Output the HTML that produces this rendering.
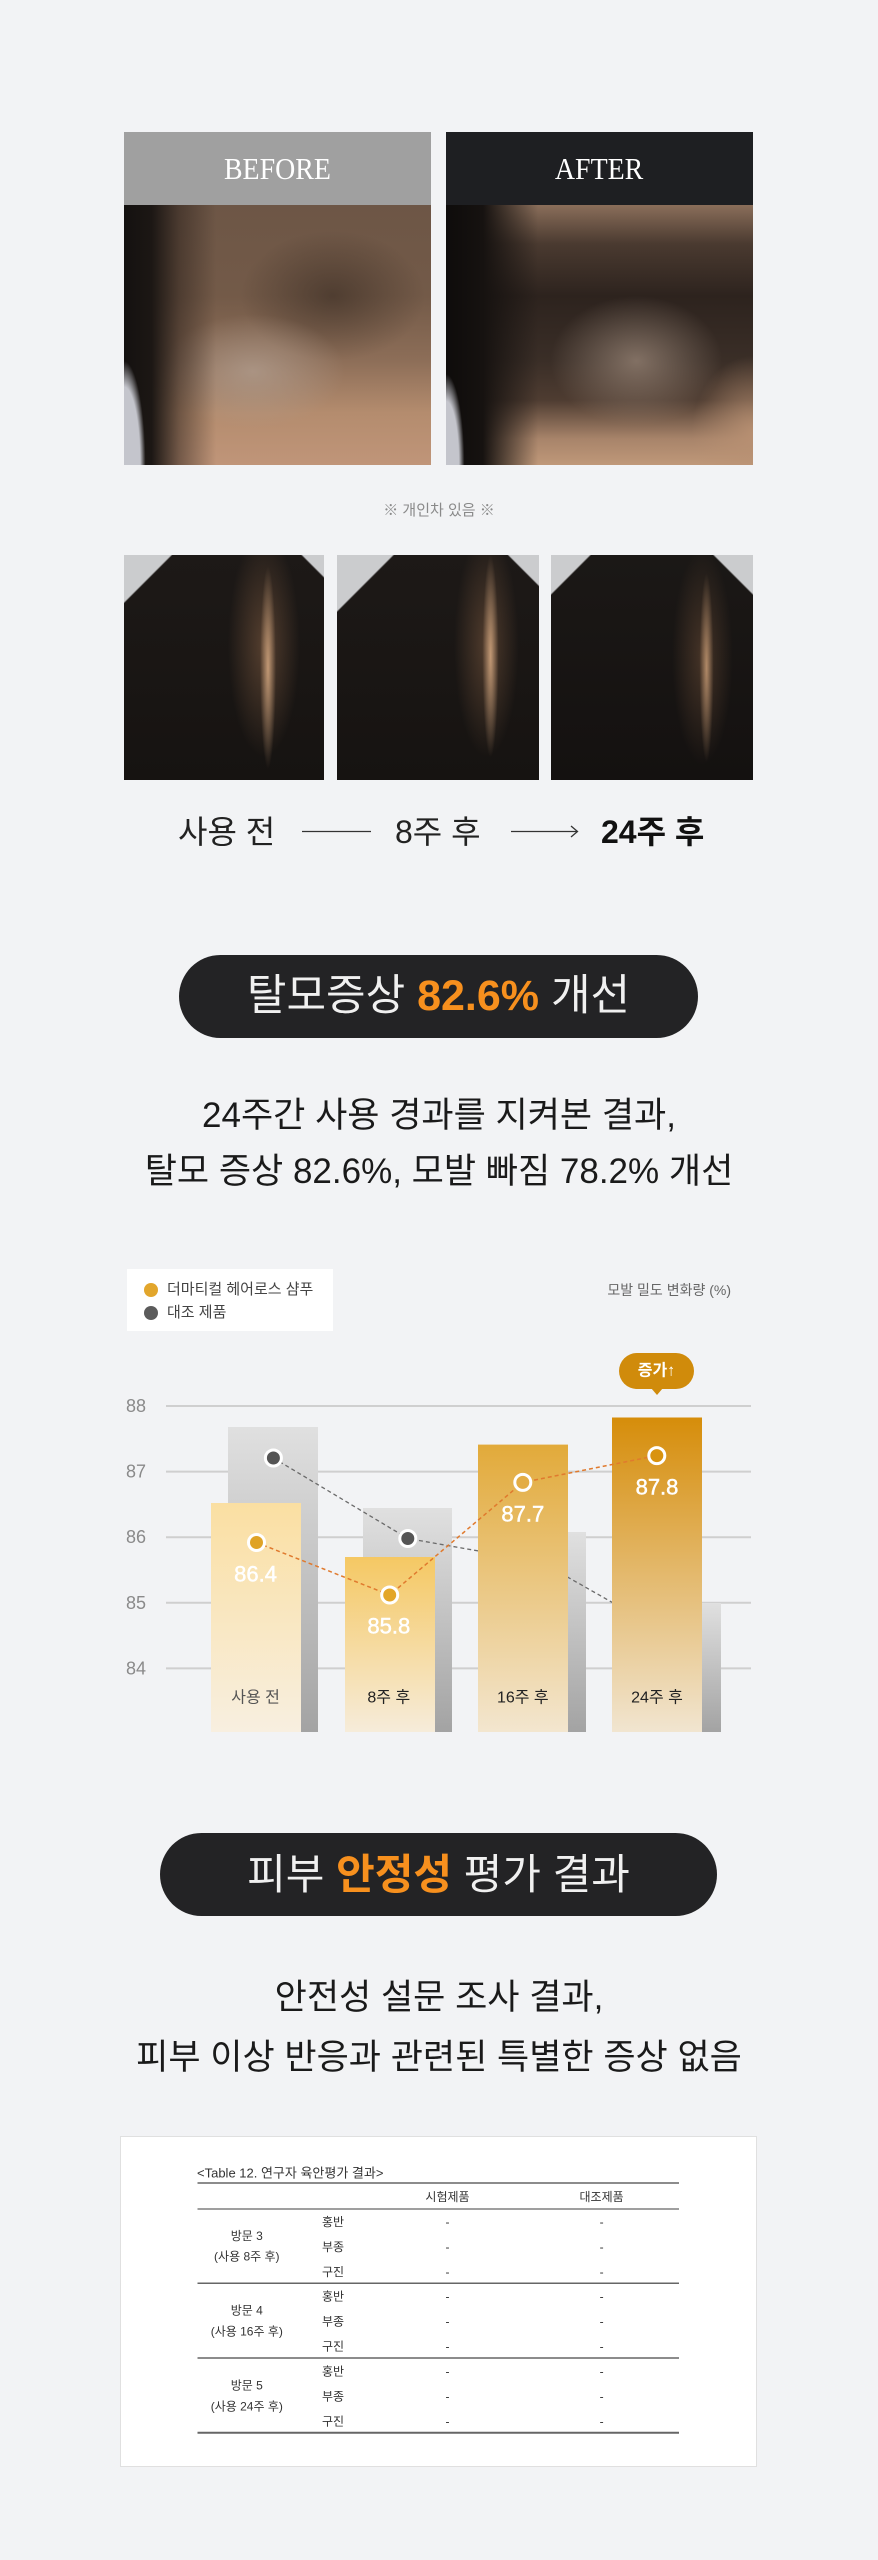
<!DOCTYPE html>
<html><head><meta charset="utf-8">
<style>
*{margin:0;padding:0;box-sizing:border-box}
html,body{width:878px;height:2560px;background:#f2f3f5;overflow:hidden}
body{position:relative;font-family:"Liberation Sans","Noto Sans CJK KR",sans-serif;color:#222}
.a{position:absolute}
.c{text-align:center;white-space:nowrap}
.n{white-space:nowrap}
.sp{position:absolute;top:555px;height:225px}
</style></head><body>

<!-- BEFORE / AFTER -->
<div class="a" style="left:124px;top:132px;width:307px;height:73px;background:#a0a0a0"></div>
<div class="a c" style="left:124px;top:132px;width:307px;height:73px;line-height:73px;color:#fff;font-family:'Liberation Serif',serif;font-size:31px"><span style="display:inline-block;transform:scaleX(.9)">BEFORE</span></div>
<div class="a" style="left:124px;top:205px;width:307px;height:260px;background:
 radial-gradient(ellipse 7% 40% at 0% 100%, #c4c5cc 0%, #c4c5cc 75%, rgba(196,197,204,0) 100%),
 linear-gradient(90deg, #141110 0%, #1c1714 9%, rgba(40,30,25,0.5) 18%, rgba(40,30,25,0) 30%),
 radial-gradient(ellipse 30% 22% at 42% 64%, rgba(175,155,140,.8), rgba(175,155,140,0) 100%),
 radial-gradient(ellipse 30% 25% at 68% 35%, rgba(50,38,30,.55), rgba(50,38,30,0) 100%),
 linear-gradient(180deg, #6d5646 0%, #735a48 35%, #8d6e58 60%, #b48c6e 80%, #c09579 100%)"></div>

<div class="a" style="left:446px;top:132px;width:307px;height:73px;background:#1e1f22"></div>
<div class="a c" style="left:446px;top:132px;width:307px;height:73px;line-height:73px;color:#fff;font-family:'Liberation Serif',serif;font-size:31px"><span style="display:inline-block;transform:scaleX(.9)">AFTER</span></div>
<div class="a" style="left:446px;top:205px;width:307px;height:260px;background:
 radial-gradient(ellipse 6% 35% at 0% 100%, #c4c5cc 0%, #c4c5cc 70%, rgba(196,197,204,0) 100%),
 radial-gradient(ellipse 20% 30% at 100% 88%, rgba(185,145,115,.9), rgba(185,145,115,0) 100%),
 linear-gradient(90deg, #0e0c0b 0%, #161210 12%, rgba(22,18,16,0) 30%),
 radial-gradient(ellipse 28% 25% at 62% 60%, rgba(160,140,125,.7), rgba(160,140,125,0) 100%),
 linear-gradient(180deg, #8a6e5a 0%, #4a3a30 15%, #2d231e 35%, #3a2e27 60%, #4e3c31 75%, #a8846a 90%, #bf9879 100%)"></div>

<div class="a c" style="left:0;width:878px;top:500px;height:22px;line-height:22px;font-size:15px;color:#8a8a8a">※ 개인차 있음 ※</div>

<!-- three scalp photos -->
<div class="sp" style="left:124px;width:200px;background:
 linear-gradient(135deg, #cbccce 0%, #cbccce 11%, rgba(203,204,206,0) 11.5%),
 linear-gradient(225deg, #cbccce 0%, #cbccce 5%, rgba(203,204,206,0) 5.5%),
 radial-gradient(ellipse 4% 45% at 72% 50%, rgba(215,170,130,.85), rgba(215,170,130,0) 100%),
 radial-gradient(ellipse 18% 50% at 70% 40%, rgba(110,80,58,.7), rgba(110,80,58,0) 100%),
 linear-gradient(180deg, #1d1917, #161311)"></div>
<div class="sp" style="left:337px;width:202px;background:
 linear-gradient(135deg, #cbccce 0%, #cbccce 13%, rgba(203,204,206,0) 13.5%),
 linear-gradient(225deg, #cbccce 0%, #cbccce 7%, rgba(203,204,206,0) 7.5%),
 radial-gradient(ellipse 4% 45% at 76% 45%, rgba(215,170,130,.85), rgba(215,170,130,0) 100%),
 radial-gradient(ellipse 16% 50% at 74% 40%, rgba(110,80,58,.65), rgba(110,80,58,0) 100%),
 linear-gradient(180deg, #1d1917, #161311)"></div>
<div class="sp" style="left:551px;width:202px;background:
 linear-gradient(135deg, #cbccce 0%, #cbccce 9%, rgba(203,204,206,0) 9.5%),
 linear-gradient(225deg, #cbccce 0%, #cbccce 9%, rgba(203,204,206,0) 9.5%),
 radial-gradient(ellipse 3.5% 42% at 77% 50%, rgba(205,160,120,.8), rgba(205,160,120,0) 100%),
 radial-gradient(ellipse 15% 48% at 75% 45%, rgba(100,72,52,.6), rgba(100,72,52,0) 100%),
 linear-gradient(180deg, #1b1816, #141110)"></div>

<!-- label row -->
<div class="a n" style="left:178px;top:811px;height:42px;line-height:42px;font-size:32px;color:#222">사용 전</div>
<div class="a n" style="left:395px;top:811px;height:42px;line-height:42px;font-size:32px;color:#222">8주 후</div>
<div class="a n" style="left:601px;top:811px;height:42px;line-height:42px;font-size:32px;color:#111;font-weight:bold">24주 후</div>
<svg class="a" style="left:0;top:820px" width="878" height="24" viewBox="0 820 878 24">
 <line x1="302" y1="831.5" x2="371" y2="831.5" stroke="#333" stroke-width="1.3"/>
 <line x1="511" y1="831.5" x2="577" y2="831.5" stroke="#333" stroke-width="1.3"/>
 <polyline points="571,826 577.5,831.5 571,837" fill="none" stroke="#333" stroke-width="1.3"/>
</svg>

<!-- pill 1 -->
<div class="a c" style="left:179px;top:955px;width:519px;height:83px;border-radius:42px;background:#232325;line-height:83px;font-size:43px;color:#f0f0f0">탈모증상 <span style="color:#f7901e;font-weight:bold">82.6%</span> 개선</div>

<div class="a c" style="left:0;width:878px;top:1093px;height:46px;line-height:46px;font-size:35px;color:#1a1a1a">24주간 사용 경과를 지켜본 결과,</div>
<div class="a c" style="left:0;width:878px;top:1149px;height:46px;line-height:46px;font-size:35px;color:#1a1a1a">탈모 증상 82.6%, 모발 빠짐 78.2% 개선</div>

<!-- chart legend -->
<div class="a" style="left:127px;top:1269px;width:206px;height:62px;background:#fff"></div>
<div class="a" style="left:144px;top:1283px;width:14px;height:14px;border-radius:50%;background:#e2a62c"></div>
<div class="a" style="left:144px;top:1306px;width:14px;height:14px;border-radius:50%;background:#5b5b5b"></div>
<div class="a n" style="left:167px;top:1280px;height:20px;line-height:20px;font-size:15px;color:#444">더마티컬 헤어로스 샴푸</div>
<div class="a n" style="left:167px;top:1303px;height:20px;line-height:20px;font-size:15px;color:#444">대조 제품</div>
<div class="a n" style="right:147px;top:1280px;height:20px;line-height:20px;font-size:14px;color:#666">모발 밀도 변화량 (%)</div>

<svg class="a" style="left:0;top:1340px" width="878" height="410" viewBox="0 1340 878 410" font-family="Liberation Sans, Noto Sans CJK KR, sans-serif">
 <defs>
  <linearGradient id="gg" x1="0" y1="0" x2="0" y2="1"><stop offset="0" stop-color="#e0e0e0"/><stop offset="1" stop-color="#a3a3a3"/></linearGradient>
  <linearGradient id="y1" x1="0" y1="0" x2="0" y2="1"><stop offset="0" stop-color="#fadfa2"/><stop offset="1" stop-color="#f8efe0"/></linearGradient>
  <linearGradient id="y2" x1="0" y1="0" x2="0" y2="1"><stop offset="0" stop-color="#f5c863"/><stop offset="1" stop-color="#f6ecda"/></linearGradient>
  <linearGradient id="y3" x1="0" y1="0" x2="0" y2="1"><stop offset="0" stop-color="#e2aa3a"/><stop offset="1" stop-color="#f3e6cf"/></linearGradient>
  <linearGradient id="y4" x1="0" y1="0" x2="0" y2="1"><stop offset="0" stop-color="#d68d0a"/><stop offset="1" stop-color="#f1e5d0"/></linearGradient>
 </defs>
 <g stroke="#cfcfcf" stroke-width="2">
  <line x1="166" y1="1406" x2="751" y2="1406"/>
  <line x1="166" y1="1471.6" x2="751" y2="1471.6"/>
  <line x1="166" y1="1537.2" x2="751" y2="1537.2"/>
  <line x1="166" y1="1602.8" x2="751" y2="1602.8"/>
  <line x1="166" y1="1668.4" x2="751" y2="1668.4"/>
 </g>
 <g font-size="18" fill="#8a8a8a" text-anchor="end" dominant-baseline="central">
  <text x="146" y="1406">88</text>
  <text x="146" y="1471.6">87</text>
  <text x="146" y="1537.2">86</text>
  <text x="146" y="1602.8">85</text>
  <text x="146" y="1668.4">84</text>
 </g>
 <!-- gray bars -->
 <rect x="228" y="1427" width="90" height="305" fill="url(#gg)"/>
 <rect x="363" y="1508" width="89" height="224" fill="url(#gg)"/>
 <rect x="496" y="1532" width="90" height="200" fill="url(#gg)"/>
 <rect x="630" y="1603" width="91" height="129" fill="url(#gg)"/>
 <!-- gray line -->
 <polyline points="273.4,1458 407.8,1538.5 541,1562 675,1638" fill="none" stroke="#6a6a6a" stroke-width="1.3" stroke-dasharray="4 3"/>
 <circle cx="273.4" cy="1458" r="8" fill="#555" stroke="#fff" stroke-width="3"/>
 <circle cx="407.8" cy="1538.5" r="8" fill="#555" stroke="#fff" stroke-width="3"/>
 <!-- yellow bars -->
 <rect x="211" y="1503" width="90" height="229" fill="url(#y1)"/>
 <rect x="345" y="1557" width="90" height="175" fill="url(#y2)"/>
 <rect x="478" y="1444.6" width="90" height="287.4" fill="url(#y3)"/>
 <rect x="612" y="1417.5" width="90" height="314.5" fill="url(#y4)"/>
 <!-- yellow line -->
 <polyline points="256.5,1542.5 389.7,1595 522.8,1482.4 656.8,1455.6" fill="none" stroke="#e07a2e" stroke-width="1.5" stroke-dasharray="4 3"/>
 <circle cx="256.5" cy="1542.5" r="8" fill="#dfa326" stroke="#fff" stroke-width="3"/>
 <circle cx="389.7" cy="1595" r="8" fill="#e3a628" stroke="#fff" stroke-width="3"/>
 <circle cx="522.8" cy="1482.4" r="8" fill="#e3ad45" stroke="#fff" stroke-width="3"/>
 <circle cx="656.8" cy="1455.6" r="8" fill="#d9930f" stroke="#fff" stroke-width="3"/>
 <g font-size="22" fill="#fff" stroke="#fff" stroke-width=".5" text-anchor="middle" dominant-baseline="central">
  <text x="255.6" y="1574">86.4</text>
  <text x="388.8" y="1626">85.8</text>
  <text x="522.8" y="1514">87.7</text>
  <text x="657" y="1487">87.8</text>
 </g>
 <g font-size="16" text-anchor="middle" dominant-baseline="central">
  <text x="255.6" y="1698" fill="#555">사용 전</text>
  <text x="388.8" y="1698" fill="#222">8주 후</text>
  <text x="522.8" y="1698" fill="#222">16주 후</text>
  <text x="657" y="1698" fill="#222">24주 후</text>
 </g>
 <!-- badge -->
 <rect x="619" y="1353" width="75" height="36" rx="18" fill="#d08b0b"/>
 <polygon points="651,1388 663,1388 657,1395" fill="#d08b0b"/>
 <text x="656.5" y="1371" font-size="16" font-weight="bold" fill="#fff" text-anchor="middle" dominant-baseline="central">증가↑</text>
</svg>

<!-- pill 2 -->
<div class="a c" style="left:160px;top:1833px;width:557px;height:83px;border-radius:42px;background:#232325;line-height:83px;font-size:42px;color:#f0f0f0">피부 <span style="color:#f7901e;font-weight:bold">안정성</span> 평가 결과</div>

<div class="a c" style="left:0;width:878px;top:1975px;height:46px;line-height:46px;font-size:35px;color:#1a1a1a">안전성 설문 조사 결과,</div>
<div class="a c" style="left:0;width:878px;top:2035px;height:46px;line-height:46px;font-size:35px;color:#1a1a1a">피부 이상 반응과 관련된 특별한 증상 없음</div>

<!-- table card -->
<div class="a" style="left:120px;top:2136px;width:637px;height:331px;background:#fff;border:1px solid #e0e0e0"></div>
<svg class="a" style="left:0;top:2130px" width="878" height="350" viewBox="0 2130 878 350" font-family="Liberation Sans, Noto Sans CJK KR, sans-serif">
 <text x="197" y="2173" font-size="13" fill="#333" dominant-baseline="central">&lt;Table 12. 연구자 육안평가 결과&gt;</text>
 <g stroke="#666">
  <line x1="197.5" y1="2183" x2="679" y2="2183" stroke-width="1.6"/>
  <line x1="197.5" y1="2209" x2="679" y2="2209" stroke-width="1.3"/>
  <line x1="197.5" y1="2283.3" x2="679" y2="2283.3" stroke-width="1.5"/>
  <line x1="197.5" y1="2358" x2="679" y2="2358" stroke-width="1.5"/>
  <line x1="197.5" y1="2432.7" x2="679" y2="2432.7" stroke-width="2"/>
 </g>
 <g font-size="12" fill="#333" text-anchor="middle" dominant-baseline="central">
  <text x="447.5" y="2197">시험제품</text>
  <text x="601.6" y="2197">대조제품</text>

  <text x="246.8" y="2236">방문 3</text>
  <text x="246.8" y="2256.7">(사용 8주 후)</text>
  <text x="246.8" y="2310.7">방문 4</text>
  <text x="246.8" y="2331.7">(사용 16주 후)</text>
  <text x="246.8" y="2385.7">방문 5</text>
  <text x="246.8" y="2406.7">(사용 24주 후)</text>

  <text x="333" y="2222">홍반</text><text x="447.5" y="2222">-</text><text x="601.6" y="2222">-</text>
  <text x="333" y="2247">부종</text><text x="447.5" y="2247">-</text><text x="601.6" y="2247">-</text>
  <text x="333" y="2272">구진</text><text x="447.5" y="2272">-</text><text x="601.6" y="2272">-</text>

  <text x="333" y="2296.7">홍반</text><text x="447.5" y="2296.7">-</text><text x="601.6" y="2296.7">-</text>
  <text x="333" y="2321.7">부종</text><text x="447.5" y="2321.7">-</text><text x="601.6" y="2321.7">-</text>
  <text x="333" y="2346.7">구진</text><text x="447.5" y="2346.7">-</text><text x="601.6" y="2346.7">-</text>

  <text x="333" y="2371.5">홍반</text><text x="447.5" y="2371.5">-</text><text x="601.6" y="2371.5">-</text>
  <text x="333" y="2396.5">부종</text><text x="447.5" y="2396.5">-</text><text x="601.6" y="2396.5">-</text>
  <text x="333" y="2421.5">구진</text><text x="447.5" y="2421.5">-</text><text x="601.6" y="2421.5">-</text>
 </g>
</svg>

</body></html>
